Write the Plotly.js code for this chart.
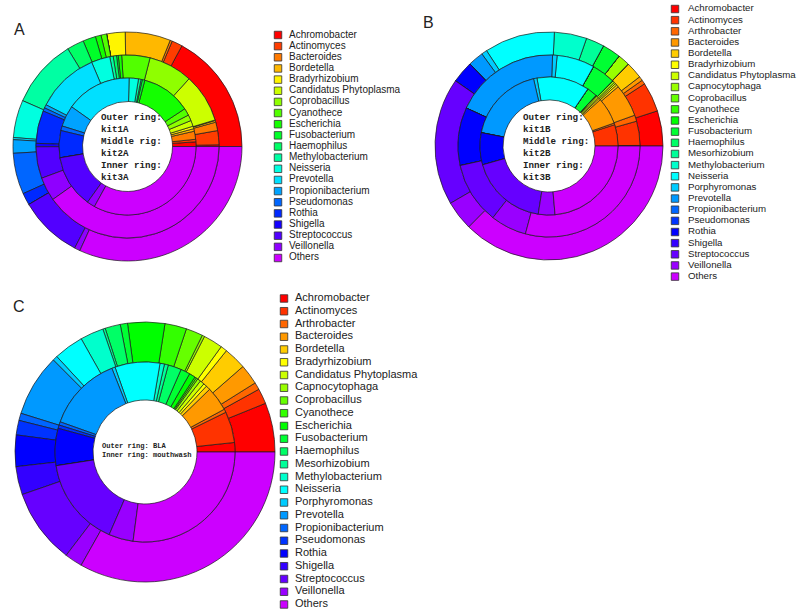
<!DOCTYPE html>
<html>
<head>
<meta charset="utf-8">
<script src="https://cdn.plot.ly/plotly-3.0.1.min.js"></script>
<style>
  html, body { margin: 0; padding: 0; background: #fff; }
  #chart { width: 800px; height: 614px; }
</style>
</head>
<body>
<div id="chart"></div>
<script>
// genus names, panel A uses 21, panels B and C use 25
const genusA = ['Achromobacter', 'Actinomyces', 'Bacteroides', 'Bordetella', 'Bradyrhizobium',
  'Candidatus Phytoplasma', 'Coprobacillus', 'Cyanothece', 'Escherichia', 'Fusobacterium',
  'Haemophilus', 'Methylobacterium', 'Neisseria', 'Prevotella', 'Propionibacterium',
  'Pseudomonas', 'Rothia', 'Shigella', 'Streptococcus', 'Veillonella', 'Others'];

const genusBC = ['Achromobacter', 'Actinomyces', 'Arthrobacter', 'Bacteroides', 'Bordetella',
  'Bradyrhizobium', 'Candidatus Phytoplasma', 'Capnocytophaga', 'Coprobacillus', 'Cyanothece',
  'Escherichia', 'Fusobacterium', 'Haemophilus', 'Mesorhizobium', 'Methylobacterium',
  'Neisseria', 'Porphyromonas', 'Prevotella', 'Propionibacterium', 'Pseudomonas', 'Rothia',
  'Shigella', 'Streptococcus', 'Veillonella', 'Others'];

// relative abundance (%)
const kit1A = [17.1, 1.5, 0.3, 6.4, 2.6, 0, 0, 0.8, 0.8, 1.8, 2.4, 9.7, 5.3, 0.3, 1.9, 5.8, 1.7, 0, 8.9, 0.8, 31.8];
const kit2A = [0.3, 2.5, 1.5, 0.3, 0.1, 8.6, 7.8, 5.0, 0.6, 0.3, 0.6, 0.6, 3.3, 11.1, 0.6, 0.6, 5.8, 0.6, 5.6, 4.2, 40.3];
const kit3A = [1.1, 0.6, 1.9, 0.6, 0.6, 1.4, 1.4, 1.7, 11.7, 0.6, 0.3, 0.6, 2.2, 15.6, 5.0, 1.1, 6.4, 0, 12.5, 1.9, 33.1];

const kit1B = [5.0, 4.2, 0.6, 0.6, 2.4, 0, 0, 1.7, 0, 0, 0, 2.6, 0, 2.6, 4.6, 10.0, 0.8, 2.2, 0, 0, 3.1, 0, 18.1, 4.2, 37.5];
const kit2B = [0.1, 4.3, 1.1, 5.8, 0.4, 0.3, 0.3, 0.4, 0, 0, 0, 4.2, 0, 0, 0, 6.7, 0.8, 18.8, 0, 0, 10.3, 0, 11.0, 6.4, 29.2];
const kit3B = [0, 5.0, 0.4, 6.3, 0.4, 0.3, 0.4, 0.3, 0, 0, 0, 2.4, 0, 0, 0, 12.3, 0.8, 18.3, 0, 0, 7.5, 0, 18.1, 3.9, 23.6];

const bla = [6.1, 1.9, 0.9, 2.5, 2.8, 0.8, 2.4, 0.3, 2.1, 2.7, 4.6, 0.9, 1.9, 0.3, 2.9, 3.7, 0.6, 7.7, 0.9, 1.8, 3.9, 3.5, 9.3, 2.2, 33.1];
const mouthwash = [1.7, 5.6, 0.6, 4.4, 0.8, 0.6, 0.8, 0.6, 0.3, 0.3, 1.1, 1.7, 2.4, 0.7, 0.8, 8.1, 0.6, 13.6, 0.6, 0.6, 6.7, 0, 16.1, 4.4, 27.2];

const W = 800, H = 614;
const textFont = 'Liberation Sans, Arial, sans-serif';
const monoFont = 'Liberation Mono, Courier New, monospace';

// same palette as R's rainbow(n, end = 0.8)
function rainbow(n) {
  let cols = [];
  for (let i = 0; i < n; i++) {
    const h = 288 * i / (n - 1);
    const f = (k0) => {
      const k = (k0 + h / 60) % 6;
      return 1 - Math.max(0, Math.min(k, 4 - k, 1));
    };
    cols.push('rgb(' + [f(5), f(3), f(1)].map(v => Math.round(v * 255)).join(',') + ')');
  }
  return cols;
}

const colA = rainbow(genusA.length);
const colBC = rainbow(genusBC.length);

// one ring = one pie with a hole, all rings of a panel share the centre
function ring(values, labels, colors, cx, cy, rOut, rIn) {
  const total = values.reduce((a, b) => a + b, 0);
  // plotly keeps the first slice where "clockwise" would put it, so
  // turn it back so the first genus starts at 3 o'clock going up
  const rot = 90 - 360 * values[0] / total;
  return {
    type: 'pie',
    values: values,
    labels: labels,
    sort: false,
    direction: 'counterclockwise',
    rotation: rot,
    hole: rIn / rOut,
    domain: {
      x: [(cx - rOut) / W, (cx + rOut) / W],
      y: [1 - (cy + rOut) / H, 1 - (cy - rOut) / H]
    },
    marker: {colors: colors, line: {color: '#1a1a1a', width: 0.7}},
    textinfo: 'none',
    showlegend: false,
    hoverinfo: 'label+percent'
  };
}

// legend drawn as a little categorical scatter (plotly's own legend rows are too tall)
function legendTraces(labels, colors, n, gap, size) {
  const xa = n === 1 ? 'x' : 'x' + n;
  const ya = n === 1 ? 'y' : 'y' + n;
  return [
    {
      type: 'scatter', mode: 'markers', xaxis: xa, yaxis: ya,
      x: labels.map(() => 0), y: labels,
      marker: {symbol: 'square', size: 7.5, color: colors, line: {color: '#333', width: 0.8}},
      hoverinfo: 'skip', showlegend: false, cliponaxis: false
    },
    {
      type: 'scatter', mode: 'text', xaxis: xa, yaxis: ya,
      x: labels.map(() => gap), y: labels, text: labels,
      textposition: 'middle right',
      textfont: {family: textFont, size: size, color: '#222'},
      hoverinfo: 'skip', showlegend: false, cliponaxis: false
    }
  ];
}

function legendAxes(sqX, y0, step, count) {
  const top = y0 - step / 2;
  const bottom = y0 + step * (count - 1) + step / 2;
  return [
    {domain: [sqX / W, (sqX + 100) / W], range: [0, 100], visible: false, fixedrange: true},
    {domain: [1 - bottom / H, 1 - top / H], range: [count - 0.5, -0.5], type: 'category',
     visible: false, fixedrange: true}
  ];
}

let data = [
  // panel A
  ring(kit1A, genusA, colA, 127.5, 146.5, 114.5, 91.5),
  ring(kit2A, genusA, colA, 127.5, 146.5, 91.5, 68.5),
  ring(kit3A, genusA, colA, 127.5, 146.5, 68.5, 45),
  // panel B
  ring(kit1B, genusBC, colBC, 549, 146, 114, 91),
  ring(kit2B, genusBC, colBC, 549, 146, 91, 69),
  ring(kit3B, genusBC, colBC, 549, 146, 69, 46),
  // panel C
  ring(bla, genusBC, colBC, 145, 452, 130, 90),
  ring(mouthwash, genusBC, colBC, 145, 452, 90, 52)
];
data = data.concat(legendTraces(genusA, colA, 1, 11, 10));
data = data.concat(legendTraces(genusBC, colBC, 2, 13, 9.7));
data = data.concat(legendTraces(genusBC, colBC, 3, 11, 11));

const axA = legendAxes(278, 35, 11.15, genusA.length);
const axB = legendAxes(675, 9, 11.15, genusBC.length);
const axC = legendAxes(284, 298.5, 12.75, genusBC.length);

function note(text, px, py, size, family, opts) {
  return Object.assign({
    text: text, xref: 'paper', yref: 'paper',
    x: px / W, y: 1 - py / H, showarrow: false,
    font: {family: family, size: size, color: '#222'}
  }, opts || {});
}

const centreOpts = {xanchor: 'left', yanchor: 'middle', align: 'left'};
const boldMono = (s) => ({family: monoFont, size: s, color: '#222', weight: 'bold'});

const annotations = [
  note('A', 12, 19, 16, textFont),
  note('B', 428, 12, 16, textFont),
  note('C', 11, 306, 16, textFont),
  Object.assign(note('Outer ring:<br>kit1A<br>Middle rig:<br>kit2A<br>Inner ring:<br>kit3A', 99, 147.5, 9.2, monoFont, centreOpts), {font: boldMono(9.2)}),
  Object.assign(note('Outer ring:<br>kit1B<br>Middle ring:<br>kit2B<br>Inner ring:<br>kit3B', 521, 147.5, 9.2, monoFont, centreOpts), {font: boldMono(9.2)}),
  Object.assign(note('Outer ring: BLA<br>Inner ring: mouthwash', 100, 450, 7.1, monoFont, centreOpts), {font: boldMono(7.1)})
];

const layout = {
  width: W, height: H,
  margin: {l: 0, r: 0, t: 0, b: 0},
  paper_bgcolor: '#fff',
  plot_bgcolor: 'rgba(0,0,0,0)',
  showlegend: false,
  xaxis: Object.assign({anchor: 'y'}, axA[0]),
  yaxis: Object.assign({anchor: 'x'}, axA[1]),
  xaxis2: Object.assign({anchor: 'y2'}, axB[0]),
  yaxis2: Object.assign({anchor: 'x2'}, axB[1]),
  xaxis3: Object.assign({anchor: 'y3'}, axC[0]),
  yaxis3: Object.assign({anchor: 'x3'}, axC[1]),
  annotations: annotations
};

Plotly.newPlot('chart', data, layout, {displayModeBar: false, staticPlot: true});
</script>
</body>
</html>
